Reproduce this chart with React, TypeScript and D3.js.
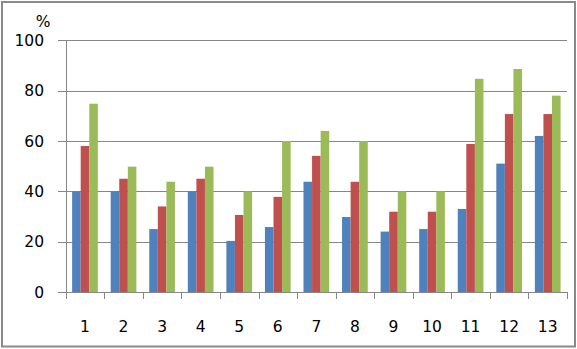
import React from "react";
import * as d3 from "d3";

const categories = ["1", "2", "3", "4", "5", "6", "7", "8", "9", "10", "11", "12", "13"];
const seriesA = [40, 40, 25, 40, 20.3, 25.8, 43.8, 29.8, 24, 25, 33, 51, 62];
const seriesB = [58, 45, 34, 45, 30.6, 37.8, 54.1, 43.8, 31.9, 31.9, 58.8, 70.7, 70.7];
const seriesC = [74.8, 49.8, 43.8, 49.8, 40, 60, 64, 60, 40, 40, 84.7, 88.6, 78];
const yTicks = [0, 20, 40, 60, 80, 100];
const colors = ["#4F81BD", "#C0504D", "#9BBB59"];

export default function App() {
  const W = 577, H = 349;
  const left = 65.7, right = 567, top = 40.3, bottom = 292;
  const x = d3.scaleBand<string>().domain(categories).range([left, right]).paddingInner(0).paddingOuter(0);
  const y = d3.scaleLinear().domain([0, 100]).range([bottom, top]);
  const bw = x.bandwidth() / 4.5;
  const series = [seriesA, seriesB, seriesC];
  const font = "'DejaVu Sans', Verdana, sans-serif";
  const fs = 15.5;
  const grid = "#868686";
  return (
    <svg width={W} height={H} style={{ position: "fixed", left: 0, top: 0, background: "#fff" }}>
      <rect x={2} y={2} width={573} height={344.5} fill="#fff" stroke="#8a8a8a" strokeWidth={2} />
      {yTicks.map((t) => (
        <g key={t}>
          <line x1={58} x2={right} y1={Math.round(y(t)) + 0.5} y2={Math.round(y(t)) + 0.5} stroke={grid} strokeWidth={1} />
          <text x={44} y={y(t)} dy="0.36em" textAnchor="end" fontFamily={font} fontSize={fs} fill="#000">{t}</text>
        </g>
      ))}
      {series.map((s, si) =>
        s.map((v, i) => (
          <rect key={si + "-" + i} x={(x(categories[i]) as number) + bw * (0.75 + si)} y={y(v)} width={bw} height={bottom - y(v)} fill={colors[si]} />
        ))
      )}
      <line x1={Math.round(left) + 0.5} x2={Math.round(left) + 0.5} y1={top} y2={bottom} stroke={grid} strokeWidth={1} />
      <line x1={left} x2={right} y1={Math.round(bottom) + 0.5} y2={Math.round(bottom) + 0.5} stroke={grid} strokeWidth={1} />
      {categories.concat(["end"]).map((c, i) => {
        const xx = i < categories.length ? (x(c) as number) : right;
        return <line key={"t" + i} x1={Math.round(xx) + 0.5} x2={Math.round(xx) + 0.5} y1={bottom} y2={bottom + 7} stroke={grid} strokeWidth={1} />;
      })}
      {categories.map((c) => (
        <text key={"l" + c} x={(x(c) as number) + x.bandwidth() / 2} y={326} dy="0.36em" textAnchor="middle" fontFamily={font} fontSize={fs} fill="#000">{c}</text>
      ))}
      <text x={43} y={27} textAnchor="middle" fontFamily={font} fontSize={fs} fill="#000">%</text>
    </svg>
  );
}
